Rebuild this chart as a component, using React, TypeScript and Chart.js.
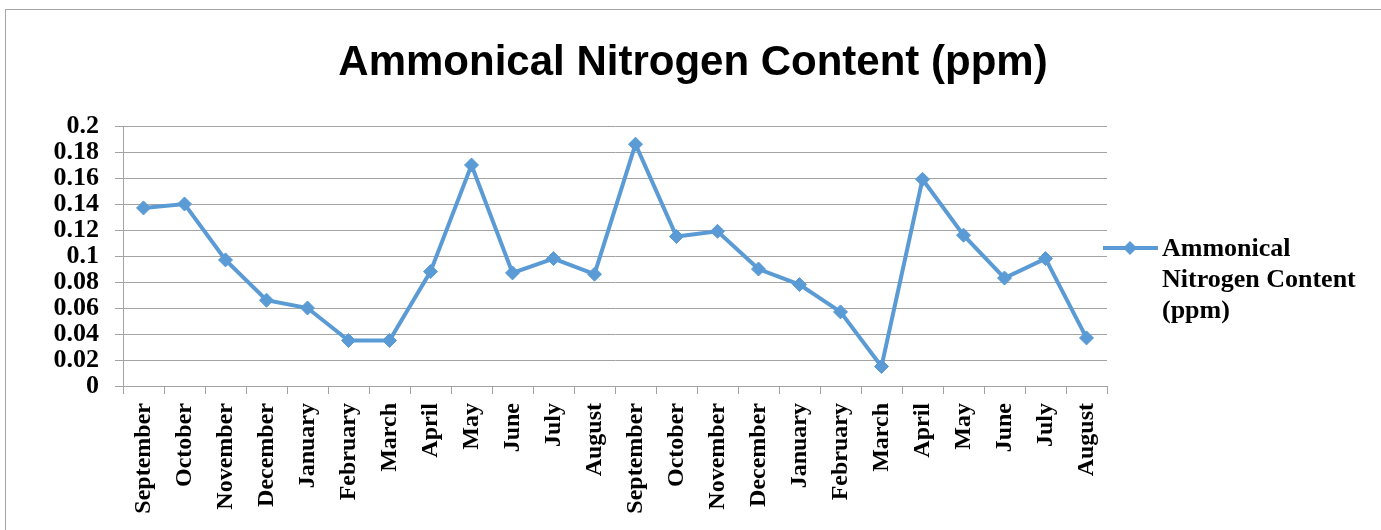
import React, { useEffect, useRef } from "react";
import { Chart, registerables } from "chart.js";

Chart.register(...registerables);

const TITLE = "Ammonical Nitrogen Content (ppm)";
const SERIES_NAME_LINES = ["Ammonical", "Nitrogen Content", "(ppm)"];
const MONTHS = [
  "September", "October", "November", "December", "January", "February",
  "March", "April", "May", "June", "July", "August",
  "September", "October", "November", "December", "January", "February",
  "March", "April", "May", "June", "July", "August",
];
const VALUES = [
  0.137, 0.140, 0.097, 0.066, 0.060, 0.035,
  0.035, 0.088, 0.170, 0.087, 0.098, 0.086,
  0.186, 0.115, 0.119, 0.090, 0.078, 0.057,
  0.015, 0.159, 0.116, 0.083, 0.098, 0.037,
];
const Y_TICKS = [0, 0.02, 0.04, 0.06, 0.08, 0.1, 0.12, 0.14, 0.16, 0.18, 0.2];

const BLUE = "#5B9BD5";
const GRID = "#a3a3a3";
const SERIF = "'Liberation Serif', 'Times New Roman', serif";

const decorPlugin = {
  id: "decor",
  beforeDraw(chart: any) {
    const ctx = chart.ctx;
    ctx.save();
    ctx.fillStyle = "#ffffff";
    ctx.fillRect(0, 0, chart.width, chart.height);
    ctx.strokeStyle = "#a6a6a6";
    ctx.lineWidth = 1;
    ctx.strokeRect(5.5, 9.5, chart.width + 20, chart.height + 20);
    ctx.restore();
  },
  afterDraw(chart: any) {
    const ctx = chart.ctx;
    ctx.save();
    // title
    ctx.fillStyle = "#000000";
    ctx.font = "bold 42px 'Liberation Sans', Arial, sans-serif";
    ctx.textAlign = "center";
    ctx.textBaseline = "alphabetic";
    ctx.fillText(TITLE, 693, 75);
    // legend
    const ly = 248;
    ctx.strokeStyle = BLUE;
    ctx.lineWidth = 4;
    ctx.beginPath();
    ctx.moveTo(1103, ly);
    ctx.lineTo(1158, ly);
    ctx.stroke();
    ctx.fillStyle = BLUE;
    ctx.beginPath();
    ctx.moveTo(1130, ly - 7);
    ctx.lineTo(1137, ly);
    ctx.lineTo(1130, ly + 7);
    ctx.lineTo(1123, ly);
    ctx.closePath();
    ctx.fill();
    ctx.fillStyle = "#000000";
    ctx.font = `bold 26px ${SERIF}`;
    ctx.textAlign = "left";
    ctx.textBaseline = "alphabetic";
    SERIES_NAME_LINES.forEach((t, i) => {
      ctx.fillText(t, 1162, 256 + i * 31);
    });
    ctx.restore();
  },
};

export default function App() {
  const ref = useRef<HTMLCanvasElement | null>(null);

  useEffect(() => {
    if (!ref.current) return;
    const chart = new Chart(ref.current, {
      type: "line",
      data: {
        labels: MONTHS,
        datasets: [
          {
            label: SERIES_NAME_LINES.join(" "),
            data: VALUES,
            borderColor: BLUE,
            backgroundColor: BLUE,
            borderWidth: 4,
            pointStyle: "rectRot",
            pointRadius: 7,
            pointBorderWidth: 1,
            pointBackgroundColor: BLUE,
            pointBorderColor: BLUE,
            tension: 0,
          },
        ],
      },
      options: {
        responsive: false,
        animation: false,
        maintainAspectRatio: false,
        layout: { padding: { top: 126, right: 274, left: 0, bottom: 0 } },
        plugins: {
          legend: { display: false },
          title: { display: false },
          tooltip: { enabled: false },
        },
        scales: {
          x: {
            type: "category",
            offset: true,
            afterFit(scale: any) {
              scale.height = 144;
            },
            grid: {
              offset: true,
              drawOnChartArea: false,
              drawTicks: true,
              tickLength: 8,
              color: GRID,
              lineWidth: 1,
            },
            border: { display: true, color: GRID, width: 1 },
            ticks: {
              autoSkip: false,
              minRotation: 90,
              maxRotation: 90,
              padding: 9,
              color: "#000000",
              font: { family: SERIF, size: 24, weight: "bold" },
            },
          },
          y: {
            min: Y_TICKS[0],
            max: Y_TICKS[Y_TICKS.length - 1],
            afterFit(scale: any) {
              scale.width = 123;
            },
            afterBuildTicks(scale: any) {
              scale.ticks = Y_TICKS.map((v) => ({ value: v }));
            },
            grid: {
              drawTicks: true,
              tickLength: 8,
              color: GRID,
              lineWidth: 1,
            },
            border: { display: true, color: GRID, width: 1 },
            ticks: {
              autoSkip: false,
              padding: 16,
              color: "#000000",
              font: { family: SERIF, size: 26, weight: "bold" },
              callback: (v: any) => String(parseFloat(Number(v).toFixed(2))),
            },
          },
        },
      },
      plugins: [decorPlugin],
    });
    return () => chart.destroy();
  }, []);

  return (
    <div style={{ position: "fixed", left: 0, top: 0, width: 1381, height: 530 }}>
      <canvas ref={ref} width={1381} height={530} style={{ display: "block", width: 1381, height: 530 }} />
    </div>
  );
}
